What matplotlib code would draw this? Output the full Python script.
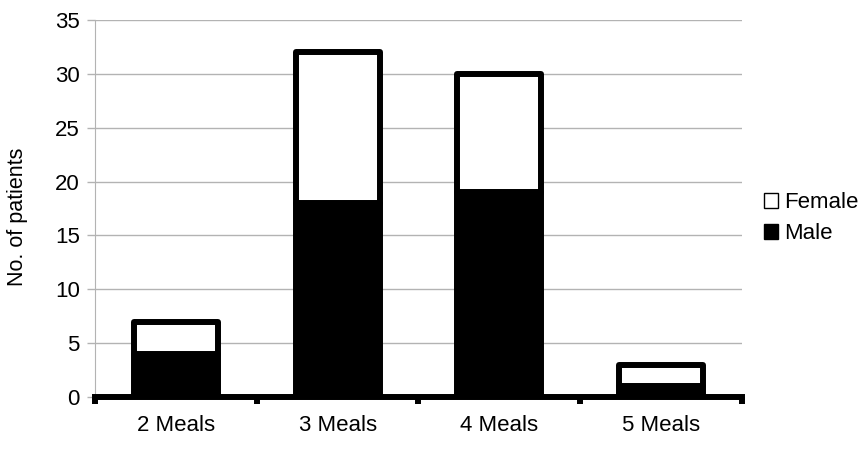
import numpy as np
import matplotlib.pyplot as plt
from matplotlib.patches import Patch

# Data
categories = ['2 Meals', '3 Meals', '4 Meals', '5 Meals']
male = [4, 18, 19, 1]
female = [3, 14, 11, 2]

plt.rcParams['font.family'] = ['Liberation Sans', 'DejaVu Sans']

fig = plt.figure(figsize=(8.66, 4.49), dpi=100)
ax = fig.add_axes([0.1097, 0.1158, 0.747, 0.8397])

x = np.arange(len(categories))
w = 0.52
ax.bar(x, male, width=w, color='black', edgecolor='black', linewidth=4.3,
       joinstyle='round', zorder=3, label='Male')
ax.bar(x, female, width=w, bottom=male, color='white', edgecolor='black',
       linewidth=4.3, joinstyle='round', zorder=3, label='Female')

ax.set_xlim(-0.5, 3.5)
ax.set_ylim(0, 35)
ax.set_yticks(range(0, 36, 5))
ax.yaxis.grid(True, color='#b3b3b3', linewidth=1)
ax.set_axisbelow(True)

ax.set_xticks(x)
ax.set_xticklabels(categories)
ax.set_xticks(np.arange(-0.5, 4, 1), minor=True)
ax.tick_params(axis='x', which='major', length=0, pad=13, labelsize=16)
ax.tick_params(axis='x', which='minor', length=5, width=4.3, color='black', direction='out')
ax.tick_params(axis='y', length=6, width=1, color='#b3b3b3', labelsize=16, pad=5)

for s in ['top', 'right']:
    ax.spines[s].set_visible(False)
ax.spines['left'].set_color('#b3b3b3')
ax.spines['bottom'].set_linewidth(4.3)
ax.spines['bottom'].set_zorder(4)
ax.spines['bottom'].set_capstyle('projecting')

ax.set_ylabel('No. of patients', fontsize=15.5)
ax.yaxis.set_label_coords(-0.1036, 0.477)

handles = [Patch(facecolor='white', edgecolor='black', label='Female'),
           Patch(facecolor='black', edgecolor='black', label='Male')]
ax.legend(handles=handles, loc='center left',
          bbox_to_anchor=(764 / 866, 1 - 218 / 449), bbox_transform=fig.transFigure,
          frameon=False, fontsize=16, handlelength=0.65, handleheight=0.65,
          handletextpad=0.27, labelspacing=0.45, borderpad=0, borderaxespad=0)

fig.savefig('out.png', dpi=100)
